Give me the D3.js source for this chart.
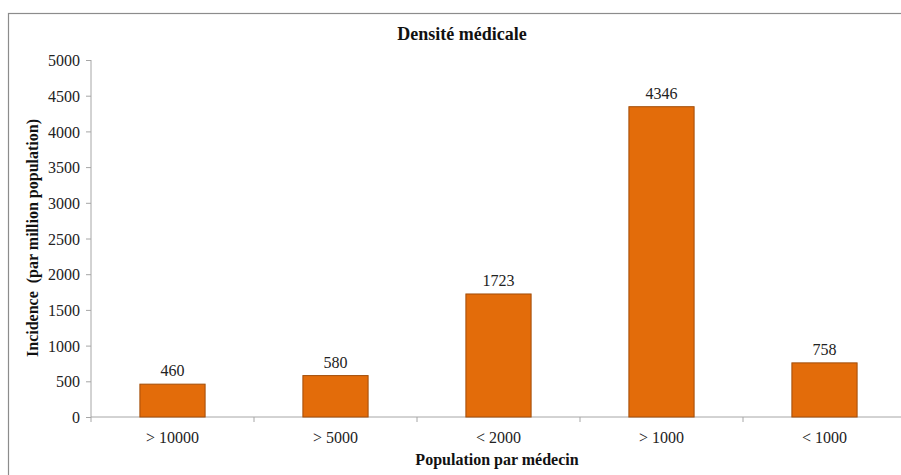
<!DOCTYPE html>
<html><head><meta charset="utf-8">
<script src="https://cdn.jsdelivr.net/npm/d3@7"></script>
<style>body{margin:0;background:#fff}svg{display:block}svg text{font-family:"Liberation Serif","Times New Roman","DejaVu Serif",serif !important}</style>
</head><body>
<svg id="c" width="901" height="475"></svg>
<script>
const categories = ["> 10000", "> 5000", "< 2000", "> 1000", "< 1000"];
const values = [460, 580, 1723, 4346, 758];
const yTicks = [0, 500, 1000, 1500, 2000, 2500, 3000, 3500, 4000, 4500, 5000];

const FONT = '"Liberation Serif","Times New Roman",serif';
const svg = d3.select("#c");
// outer frame
svg.append("rect").attr("x", 8.5).attr("y", 13.5).attr("width", 1000).attr("height", 1000)
  .attr("fill", "none").attr("stroke", "#8c8c8c").attr("stroke-width", 1.2);

const x0 = 91, x1 = 906, y0 = 417, y1 = 60;
const x = d3.scaleBand().domain(categories).range([x0, x1]).paddingInner(0.6).paddingOuter(0.3);
const y = d3.scaleLinear().domain([0, 5000]).range([y0, y1]);

// y axis
const ya = svg.append("g").attr("transform", `translate(${x0},0)`)
  .call(d3.axisLeft(y).tickValues(yTicks).tickFormat(d3.format("d")).tickSize(5).tickPadding(6));
ya.attr("font-family", FONT);
ya.select(".domain").attr("stroke", "#a6a6a6").attr("d", `M0,${y0}V${y1}`);
ya.selectAll(".tick line").attr("stroke", "#a6a6a6");
ya.selectAll(".tick text").attr("font-size", 16).attr("fill", "#222").attr("dy", "0.35em");

// x axis
const xa = svg.append("g").attr("transform", `translate(0,${y0})`).attr("font-family", FONT);
xa.append("line").attr("x1", x0).attr("x2", x1).attr("y1", 0).attr("y2", 0).attr("stroke", "#a6a6a6");
const boundaries = categories.map((c, i) => x0 + i * x.step()).concat([x1]);
xa.selectAll("line.t").data(boundaries).join("line").attr("class", "t")
  .attr("x1", d => d).attr("x2", d => d).attr("y1", 0).attr("y2", 5).attr("stroke", "#a6a6a6");
xa.selectAll("text").data(categories).join("text")
  .attr("x", d => x(d) + x.bandwidth() / 2).attr("y", 26)
  .attr("text-anchor", "middle").attr("font-size", 16).attr("fill", "#222").text(d => d);

// bars
svg.selectAll("rect.bar").data(values).join("rect").attr("class", "bar")
  .attr("x", (d, i) => x(categories[i])).attr("width", x.bandwidth())
  .attr("y", d => y(d)).attr("height", d => y0 - y(d))
  .attr("fill", "#E36C0A").attr("stroke", "#a24d08").attr("stroke-width", 1);

// value labels
svg.selectAll("text.val").data(values).join("text").attr("class", "val")
  .attr("font-family", FONT)
  .attr("x", (d, i) => x(categories[i]) + x.bandwidth() / 2).attr("y", d => y(d) - 8)
  .attr("text-anchor", "middle").attr("font-size", 16).attr("fill", "#222").text(d => d);

// titles
svg.append("text").attr("font-family", FONT).attr("x", 462).attr("y", 40).attr("text-anchor", "middle")
  .attr("font-size", 18).attr("font-weight", "bold").attr("fill", "#111").text("Densité médicale");
svg.append("text").attr("font-family", FONT).attr("x", 497).attr("y", 465).attr("text-anchor", "middle")
  .attr("font-size", 16).attr("font-weight", "bold").attr("fill", "#111").text("Population par médecin");
svg.append("text").attr("font-family", FONT).attr("transform", "translate(38,238) rotate(-90)").attr("text-anchor", "middle")
  .style("white-space", "pre")
  .attr("font-size", 16).attr("font-weight", "bold").attr("fill", "#111").text("Incidence\u00a0 (par million population)");
</script>
</body></html>
